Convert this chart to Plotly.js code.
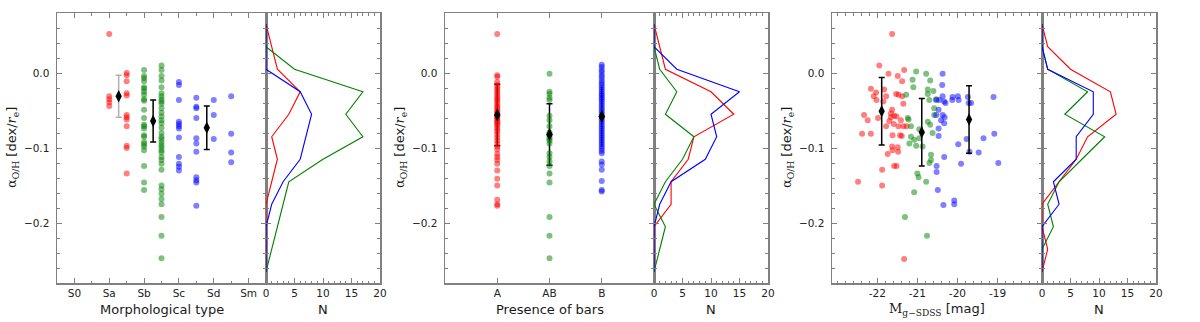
<!DOCTYPE html>
<html>
<head>
<meta charset="utf-8">
<script src="https://cdn.plot.ly/plotly-3.0.1.min.js"></script>
<style>
html, body { margin: 0; padding: 0; background: #fff; }
#chart { width: 1200px; height: 322px; }
</style>
</head>
<body>
<div id="chart"></div>
<script>
// ---- panel 1: morphological type (S0=0 ... Sm=5) ----
const morphTicks = ['S0', 'Sa', 'Sb', 'Sc', 'Sd', 'Sm'];
const sa_red = [0.052, -0.031, -0.035, -0.039, -0.044];
const sab_red = [0.0, -0.003, -0.011, -0.027, -0.030, -0.056, -0.059, -0.062, -0.071, -0.097, -0.100, -0.134];
const sb_green = [0.004, -0.004, -0.007, -0.011, -0.019, -0.021, -0.025, -0.029, -0.035, -0.037, -0.049, -0.060,
    -0.069, -0.071, -0.074, -0.083, -0.085, -0.092, -0.095, -0.098, -0.103, -0.124, -0.146, -0.156];
const sbc_green = [0.010, 0.004, -0.004, -0.010, -0.019, -0.027, -0.031, -0.035, -0.038, -0.041, -0.047, -0.053,
    -0.058, -0.063, -0.067, -0.073, -0.080, -0.085, -0.088, -0.092, -0.096, -0.099, -0.103, -0.106, -0.112,
    -0.116, -0.121, -0.129, -0.150, -0.155, -0.161, -0.168, -0.175, -0.192, -0.217, -0.247];
const sc_blue = [-0.012, -0.016, -0.036, -0.065, -0.068, -0.071, -0.074, -0.086, -0.112, -0.121, -0.125, -0.130];
const scd_blue = [-0.033, -0.045, -0.047, -0.060, -0.087, -0.094, -0.105, -0.139, -0.143, -0.146, -0.177];
const sd_blue = [-0.036, -0.056, -0.088];
const sdm_blue = [-0.031, -0.081, -0.106, -0.119];
const morphMeanX = [1.27, 2.26, 3.8];
const morphMeanY = [-0.031, -0.064, -0.073];
const morphMeanErr = [0.028, 0.028, 0.029];

// ---- panel 2: presence of bars (A=1, AB=2, B=3) ----
const barTicks = ['A', 'AB', 'B'];
const barA_red = [0.052, -0.003, -0.005, -0.012, -0.016, -0.019, -0.022, -0.025, -0.028, -0.031, -0.034, -0.036,
    -0.039, -0.042, -0.045, -0.047, -0.050, -0.052, -0.054, -0.057, -0.059, -0.061, -0.063, -0.065, -0.067,
    -0.069, -0.072, -0.075, -0.078, -0.082, -0.086, -0.090, -0.094, -0.098, -0.102, -0.108, -0.112, -0.116,
    -0.121, -0.130, -0.141, -0.150, -0.169, -0.175, -0.177];
const barAB_green = [-0.001, -0.025, -0.028, -0.033, -0.036, -0.057, -0.063, -0.071, -0.079, -0.082, -0.085,
    -0.088, -0.090, -0.094, -0.107, -0.112, -0.118, -0.124, -0.134, -0.146, -0.192, -0.217, -0.247];
const barB_blue = [0.011, 0.008, 0.004, 0.001, -0.003, -0.006, -0.010, -0.013, -0.016, -0.019, -0.022, -0.025,
    -0.028, -0.030, -0.033, -0.035, -0.038, -0.041, -0.044, -0.047, -0.050, -0.053, -0.056, -0.059, -0.062,
    -0.065, -0.068, -0.071, -0.074, -0.077, -0.080, -0.083, -0.086, -0.089, -0.092, -0.095, -0.098, -0.101,
    -0.104, -0.107, -0.118, -0.122, -0.129, -0.144, -0.156, -0.158];
const barMeanX = [1, 2, 3];
const barMeanY = [-0.056, -0.082, -0.058];
const barMeanErr = [0.041, 0.041, 0.040];

// ---- panel 3: absolute magnitude ----
const magTicks = [-22, -21, -20, -19];
const mag_red_x = [-21.63, -21.95, -21.33, -21.72, -21.49, -22.16, -22.03, -22.09, -21.83, -21.78, -22.02, -21.85,
    -21.53, -21.47, -21.38, -21.35, -21.38, -21.63, -21.66, -21.58, -21.66, -21.52, -21.70, -22.33, -22.24,
    -21.98, -21.78, -21.59, -21.47, -21.41, -21.35, -21.27, -22.38, -22.16, -21.62, -21.43, -21.39, -21.63,
    -21.49, -21.74, -21.62, -21.48, -21.58, -21.52, -21.88, -22.48, -21.88, -21.33];
const mag_red_y = [0.052, 0.010, 0.004, -0.001, -0.004, -0.021, -0.026, -0.031, -0.022, -0.031, -0.036, -0.038,
    -0.028, -0.029, -0.031, -0.041, -0.011, -0.049, -0.054, -0.057, -0.059, -0.058, -0.064, -0.056, -0.063,
    -0.060, -0.071, -0.068, -0.071, -0.063, -0.071, -0.071, -0.081, -0.081, -0.083, -0.083, -0.084, -0.098,
    -0.099, -0.108, -0.103, -0.105, -0.124, -0.124, -0.129, -0.145, -0.150, -0.248];
const mag_green_x = [-21.28, -21.12, -21.10, -21.03, -20.78, -20.68, -20.74, -20.60, -20.70, -20.74, -20.58,
    -20.53, -21.24, -21.22, -21.16, -20.74, -20.68, -20.58, -21.20, -21.16, -21.08, -21.03, -20.95, -20.87,
    -20.95, -20.62, -20.66, -20.70, -20.66, -21.00, -20.97, -20.78, -21.08, -21.31, -20.76];
const mag_green_y = [-0.029, -0.009, -0.019, 0.002, -0.001, -0.010, -0.022, -0.024, -0.036, -0.028, -0.047,
    -0.035, -0.060, -0.062, -0.071, -0.065, -0.069, -0.056, -0.094, -0.085, -0.089, -0.097, -0.087, -0.098,
    -0.075, -0.080, -0.109, -0.120, -0.116, -0.134, -0.139, -0.145, -0.159, -0.192, -0.217];
const mag_blue_x = [-20.37, -20.38, -20.53, -20.45, -20.37, -20.33, -20.12, -20.13, -20.47, -20.37, -20.32,
    -20.33, -20.53, -20.30, -19.99, -19.97, -19.74, -19.72, -19.66, -20.47, -20.47, -20.41, -20.52, -20.52,
    -20.33, -20.49, -20.35, -20.08, -20.08, -19.98, -19.91, -19.77, -19.70, -19.35, -19.47, -19.10, -19.08, -18.98];
const mag_blue_y = [-0.001, -0.016, -0.036, -0.036, -0.031, -0.038, -0.032, -0.036, -0.049, -0.056, -0.059,
    -0.067, -0.056, -0.040, -0.031, -0.036, -0.032, -0.040, -0.040, -0.084, -0.074, -0.063, -0.124, -0.132,
    -0.112, -0.156, -0.176, -0.170, -0.175, -0.095, -0.121, -0.088, -0.105, -0.087, -0.106, -0.032, -0.081, -0.120];
const magMeanX = [-21.89, -20.89, -19.71];
const magMeanY = [-0.051, -0.079, -0.062];
const magMeanErr = [0.045, 0.045, 0.045];

// ---- histograms (N per bin of 0.03 dex/re) ----
const binCenters = [0.065, 0.035, 0.005, -0.025, -0.055, -0.085, -0.115, -0.145, -0.175, -0.205, -0.235, -0.265];
const h1_red   = [0, 1, 2, 6, 4, 1, 2, 1, 0, 0, 0, 0];
const h1_green = [0, 0, 5, 17, 14, 17, 10, 4, 3, 2, 1, 0];
const h1_blue  = [0, 0, 0, 6, 8, 7, 6, 3, 1, 0, 0, 0];
const h2_red   = [0, 1, 2, 10, 14, 7, 6, 3, 3, 0, 0, 0];
const h2_green = [0, 0, 1, 4, 2, 7, 5, 2, 0, 2, 1, 0];
const h2_blue  = [0, 0, 4, 15, 10, 11, 9, 3, 1, 0, 0, 0];
const h3_red   = [0, 1, 5, 12, 13, 8, 6, 3, 0, 0, 1, 0];
const h3_green = [0, 0, 1, 8, 4, 11, 7, 3, 1, 2, 0, 0];
const h3_blue  = [0, 0, 1, 9, 9, 6, 6, 2, 3, 0, 0, 0];

const RED = 'rgba(255,0,0,0.5)', GREEN = 'rgba(0,128,0,0.5)', BLUE = 'rgba(0,0,255,0.5)';

const dots = (xs, ys, color, xa, ya) => ({
    type: 'scatter', mode: 'markers', x: xs, y: ys, xaxis: xa, yaxis: ya,
    marker: {size: 6, color: color, line: {width: 0}}, hoverinfo: 'skip'
});
const column = (pos, ys) => ys.map(() => pos);

const hist = (counts, color, xa, ya) => ({
    type: 'scatter', mode: 'lines', x: counts, y: binCenters, xaxis: xa, yaxis: ya,
    line: {color: color, width: 1.1}, hoverinfo: 'skip'
});

// mean points with error bars; [colour, cap width] per point
const means = (mx, my, me, xa, ya, styles) => mx.map((x, i) => ({
    type: 'scatter', mode: 'markers', x: [x], y: [my[i]], xaxis: xa, yaxis: ya,
    marker: {symbol: 'diamond-tall', size: 9, color: 'black'},
    error_y: {type: 'data', array: [me[i]], color: styles[i][0], thickness: 1.5, width: styles[i][1]},
    hoverinfo: 'skip'
}));

const K = ['black', 3];
let data = [
    dots(column(1, sa_red), sa_red, RED, 'x', 'y'),
    dots(column(1.5, sab_red), sab_red, RED, 'x', 'y'),
    dots(column(2, sb_green), sb_green, GREEN, 'x', 'y'),
    dots(column(2.5, sbc_green), sbc_green, GREEN, 'x', 'y'),
    dots(column(3, sc_blue), sc_blue, BLUE, 'x', 'y'),
    dots(column(3.5, scd_blue), scd_blue, BLUE, 'x', 'y'),
    dots(column(4, sd_blue), sd_blue, BLUE, 'x', 'y'),
    dots(column(4.5, sdm_blue), sdm_blue, BLUE, 'x', 'y'),
    ...means(morphMeanX, morphMeanY, morphMeanErr, 'x', 'y', [['#b0b0b0', 3], K, K]),
    hist(h1_red, '#ff0000', 'x2', 'y2'),
    hist(h1_green, '#008000', 'x2', 'y2'),
    hist(h1_blue, '#0000ff', 'x2', 'y2'),

    ...means(barMeanX, barMeanY, barMeanErr, 'x3', 'y3', [K, K, ['#22226e', 0]]),
    dots(column(1, barA_red), barA_red, RED, 'x3', 'y3'),
    dots(column(2, barAB_green), barAB_green, GREEN, 'x3', 'y3'),
    dots(column(3, barB_blue), barB_blue, BLUE, 'x3', 'y3'),
    hist(h2_red, '#ff0000', 'x4', 'y4'),
    hist(h2_green, '#008000', 'x4', 'y4'),
    hist(h2_blue, '#0000ff', 'x4', 'y4'),

    dots(mag_red_x, mag_red_y, RED, 'x5', 'y5'),
    dots(mag_green_x, mag_green_y, GREEN, 'x5', 'y5'),
    dots(mag_blue_x, mag_blue_y, BLUE, 'x5', 'y5'),
    ...means(magMeanX, magMeanY, magMeanErr, 'x5', 'y5', [K, K, K]),
    hist(h3_red, '#ff0000', 'x6', 'y6'),
    hist(h3_green, '#008000', 'x6', 'y6'),
    hist(h3_blue, '#0000ff', 'x6', 'y6')
];
// redraw the bar means on top of the dots (markers only)
data.push(...barMeanX.map((x, i) => ({
    type: 'scatter', mode: 'markers', x: [x], y: [barMeanY[i]], xaxis: 'x3', yaxis: 'y3',
    marker: {symbol: 'diamond-tall', size: 9, color: 'black'}, hoverinfo: 'skip'
})));

const W = 1200, H = 322;
const px = (a, b) => [a / W, b / W];
const yDom = [1 - 283 / H, 1 - 13 / H];
const GRAY = '#808080';
const tickFont = {family: 'DejaVu Sans', size: 10.5, color: '#222'};

const frame = (extra) => Object.assign({
    showline: true, linecolor: GRAY, linewidth: 1.5, mirror: 'ticks',
    ticks: 'inside', ticklen: 5, tickcolor: GRAY, tickwidth: 1,
    showgrid: false, zeroline: false, tickfont: tickFont, fixedrange: true
}, extra);

const yax = (anchor, labels) => frame({
    domain: yDom, anchor: anchor, range: [-0.28, 0.08], tick0: 0, dtick: 0.1, tickformat: '.1f',
    showticklabels: labels, ticklabelstandoff: 4,
    minor: {ticks: 'inside', ticklen: 3, tickcolor: GRAY, dtick: 0.02, tick0: 0}
});
const histX = (dom, anchor) => frame({
    domain: dom, anchor: anchor, range: [0, 20], tick0: 0, dtick: 5,
    minor: {ticks: 'inside', ticklen: 2.5, tickcolor: GRAY, dtick: 1}
});

const annFont = {family: 'DejaVu Sans', size: 13, color: '#1a1a1a'};
const yTitle = '<span style="font-family:DejaVu Serif">α<sub>O/H</sub></span> [dex/<span style="font-family:DejaVu Serif"><i>r</i><sub>e</sub></span>]';
const xTitleY = 1 - 309 / H;
const ann = (x, text, rot) => ({
    xref: 'paper', yref: 'paper', x: x / W, y: rot ? 1 - 148 / H : xTitleY,
    xanchor: 'center', yanchor: 'middle', text: text, showarrow: false,
    textangle: rot ? -90 : 0, font: annFont
});

const layout = {
    width: W, height: H, margin: {l: 0, r: 0, t: 0, b: 0},
    paper_bgcolor: '#fff', plot_bgcolor: '#fff', showlegend: false,
    xaxis: frame({domain: px(57, 266), anchor: 'y', range: [-0.5, 5.5], tickvals: [0, 1, 2, 3, 4, 5],
        ticktext: morphTicks, minor: {ticks: 'inside', ticklen: 2.5, tickcolor: GRAY, dtick: 0.5, tick0: 0}}),
    yaxis: yax('x', true),
    xaxis2: histX(px(266, 380), 'y2'),
    yaxis2: Object.assign(yax('x2', false), {matches: 'y'}),
    xaxis3: frame({domain: px(445, 654), anchor: 'y3', range: [0, 4], tickvals: [1, 2, 3], ticktext: barTicks}),
    yaxis3: Object.assign(yax('x3', true), {matches: 'y'}),
    xaxis4: histX(px(654, 768), 'y4'),
    yaxis4: Object.assign(yax('x4', false), {matches: 'y'}),
    xaxis5: frame({domain: px(832, 1042), anchor: 'y5', range: [-23.13, -17.89], tickvals: magTicks,
        ticktext: magTicks.map(String), minor: {ticks: 'inside', ticklen: 2.5, tickcolor: GRAY, dtick: 0.2, tick0: 0}}),
    yaxis5: Object.assign(yax('x5', true), {matches: 'y'}),
    xaxis6: histX(px(1042, 1156), 'y6'),
    yaxis6: Object.assign(yax('x6', false), {matches: 'y'}),
    annotations: [
        ann(12, yTitle, true), ann(400, yTitle, true), ann(787, yTitle, true),
        ann(161.5, 'Morphological type'), ann(323, 'N'),
        ann(549.5, 'Presence of bars'), ann(711, 'N'),
        ann(937, '<span style="font-family:DejaVu Serif">M<sub>g−SDSS</sub></span> [mag]'), ann(1099, 'N')
    ]
};

Plotly.newPlot('chart', data, layout, {staticPlot: true, displayModeBar: false});
</script>
</body>
</html>
